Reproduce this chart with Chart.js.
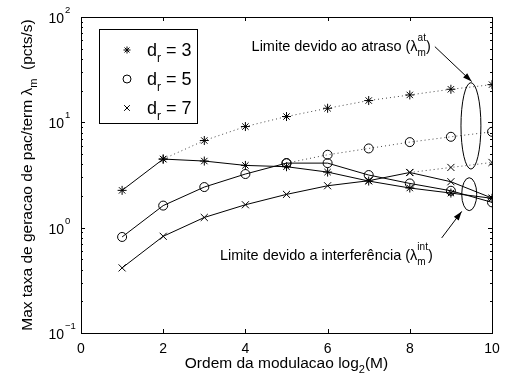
<!DOCTYPE html>
<html>
<head>
<meta charset="utf-8">
<script src="https://cdn.jsdelivr.net/npm/chart.js@4.4.1/dist/chart.umd.min.js"></script>
<style>
  html, body { margin: 0; padding: 0; background: #fff; }
  #grafico { display: block; }
</style>
</head>
<body>
<canvas id="grafico" width="505" height="378"></canvas>
<script>
// ordem da modulacao log2(M)
var ordens = [1, 2, 3, 4, 5, 6, 7, 8, 9, 10];

// taxa maxima (pcts/s), limite efetivo
var taxaDr3 = [2.26, 4.48, 4.29, 3.90, 3.79, 3.37, 2.77, 2.38, 2.13, 1.90];
var taxaDr5 = [0.816, 1.62, 2.43, 3.23, 4.10, 4.10, 3.16, 2.63, 2.24, 1.74];
var taxaDr7 = [0.415, 0.828, 1.25, 1.65, 2.07, 2.50, 2.79, 3.34, 2.73, 1.91];

// limite devido ao atraso (linha pontilhada)
var atrasoDr3 = [null, 4.48, 6.72, 9.12, 11.35, 13.6, 16.1, 18.2, 20.6, 22.8];
var atrasoDr5 = [null, null, null, null, 4.10, 4.92, 5.65, 6.49, 7.29, 8.13];
var atrasoDr7 = [null, null, null, null, null, null, null, 3.34, 3.73, 4.16];

var xTicks = [0, 2, 4, 6, 8, 10];
var yDecadas = [-1, 0, 1, 2];

var legendaItens = [
    { rotulo: '3', estilo: 'star' },
    { rotulo: '5', estilo: 'circle' },
    { rotulo: '7', estilo: 'crossRot' }
];

var FONTE = '"Liberation Sans", Arial, Helvetica, sans-serif';

function pontos(valores) {
    var out = [];
    valores.forEach(function (v, i) {
        if (v !== null) out.push({ x: ordens[i], y: v });
    });
    return out;
}

function serie(valores, estilo, raio, pontilhada) {
    return {
        data: pontos(valores),
        borderColor: pontilhada ? '#444' : '#000',
        borderWidth: 1,
        borderDash: pontilhada ? [1, 3] : [],
        pointStyle: estilo,
        pointRadius: raio,
        pointBorderColor: '#000',
        pointBackgroundColor: 'rgba(0,0,0,0)',
        pointBorderWidth: 1,
        tension: 0,
        fill: false
    };
}

function desenhaMarcador(ctx, estilo, r, x, y) {
    ctx.save();
    ctx.strokeStyle = '#000';
    ctx.fillStyle = 'rgba(0,0,0,0)';
    ctx.lineWidth = 1;
    if (Chart.helpers && Chart.helpers.drawPoint) {
        Chart.helpers.drawPoint(ctx, { pointStyle: estilo, radius: r, rotation: 0, borderWidth: 1 }, x, y);
    }
    ctx.restore();
}

// texto com partes em sobrescrito/subscrito
function textoRico(ctx, partes, x, y, alinhar) {
    var total = 0;
    partes.forEach(function (p) {
        ctx.font = p.tam + 'px ' + FONTE;
        p.w = ctx.measureText(p.t).width;
        if (!p.empilha) total += p.w;
    });
    var cx = alinhar === 'center' ? x - total / 2 : x;
    var ultimo = 0;
    partes.forEach(function (p) {
        ctx.font = p.tam + 'px ' + FONTE;
        var px = p.empilha ? cx - ultimo : cx;
        ctx.fillText(p.t, px, y + (p.dy || 0));
        if (p.empilha) {
            cx = px + Math.max(p.w, ultimo);
        } else {
            cx += p.w;
            ultimo = p.w;
        }
    });
}

var molduraPlugin = {
    id: 'moldura',
    afterDraw: function (chart) {
        var ctx = chart.ctx;
        var a = chart.chartArea;
        var sx = chart.scales.x;
        var sy = chart.scales.y;
        ctx.save();
        ctx.strokeStyle = '#000';
        ctx.lineWidth = 1;
        ctx.strokeRect(Math.round(a.left) + 0.5, Math.round(a.top) + 0.5,
            Math.round(a.right - a.left), Math.round(a.bottom - a.top));

        // ticks para dentro
        ctx.beginPath();
        xTicks.forEach(function (v) {
            var px = Math.round(sx.getPixelForValue(v)) + 0.5;
            ctx.moveTo(px, a.bottom); ctx.lineTo(px, a.bottom - 4);
            ctx.moveTo(px, a.top); ctx.lineTo(px, a.top + 4);
        });
        yDecadas.forEach(function (e) {
            for (var m = 1; m <= 9; m++) {
                if (e === 2 && m > 1) break;
                var py = Math.round(sy.getPixelForValue(m * Math.pow(10, e))) + 0.5;
                var len = m === 1 ? 4 : 2;
                ctx.moveTo(a.left, py); ctx.lineTo(a.left + len, py);
                ctx.moveTo(a.right, py); ctx.lineTo(a.right - len, py);
            }
        });
        ctx.stroke();

        // rotulos dos ticks
        ctx.fillStyle = '#000';
        ctx.textBaseline = 'alphabetic';
        ctx.font = '14px ' + FONTE;
        ctx.textAlign = 'center';
        xTicks.forEach(function (v) {
            ctx.fillText(String(v), sx.getPixelForValue(v), a.bottom + 20);
        });
        yDecadas.forEach(function (e) {
            var py = sy.getPixelForValue(Math.pow(10, e));
            ctx.font = '14px ' + FONTE;
            ctx.textAlign = 'right';
            ctx.fillText('10', a.left - 17, py + 6);
            ctx.font = '9.5px ' + FONTE;
            ctx.textAlign = 'left';
            ctx.fillText(e < 0 ? '\u2212' + (-e) : String(e), a.left - 16, py - 4);
        });

        // titulos dos eixos
        ctx.textAlign = 'left';
        textoRico(ctx, [
            { t: 'Ordem da modulacao log', tam: 15.5 },
            { t: '2', tam: 11, dy: 5 },
            { t: '(M)', tam: 15.5 }
        ], (a.left + a.right) / 2, a.bottom + 35, 'center');

        ctx.save();
        ctx.translate(32, (a.top + a.bottom) / 2);
        ctx.rotate(-Math.PI / 2);
        textoRico(ctx, [
            { t: 'Max taxa de geracao de pac/term \u03bb', tam: 15.5 },
            { t: 'm', tam: 11, dy: 5 },
            { t: '  (pcts/s)', tam: 15.5 }
        ], 0, 0, 'center');
        ctx.restore();

        // anotacoes: elipses
        function elipse(x0, x1, y0, y1) {
            var l = sx.getPixelForValue(x0), r = sx.getPixelForValue(x1);
            var t = sy.getPixelForValue(y1), b = sy.getPixelForValue(y0);
            ctx.beginPath();
            ctx.ellipse((l + r) / 2, (t + b) / 2, (r - l) / 2, (b - t) / 2, 0, 0, Math.PI * 2);
            ctx.stroke();
        }
        elipse(9.245, 9.73, 3.6, 23.8);
        elipse(9.263, 9.628, 1.45, 2.98);

        // setas
        function seta(x0, y0, x1, y1) {
            var ax = sx.getPixelForValue(x0), ay = sy.getPixelForValue(y0);
            var bx = sx.getPixelForValue(x1), by = sy.getPixelForValue(y1);
            var ang = Math.atan2(by - ay, bx - ax);
            ctx.beginPath();
            ctx.moveTo(ax, ay); ctx.lineTo(bx, by);
            ctx.stroke();
            ctx.beginPath();
            ctx.moveTo(bx, by);
            ctx.lineTo(bx - 9 * Math.cos(ang) + 3 * Math.sin(ang), by - 9 * Math.sin(ang) - 3 * Math.cos(ang));
            ctx.lineTo(bx - 9 * Math.cos(ang) - 3 * Math.sin(ang), by - 9 * Math.sin(ang) + 3 * Math.cos(ang));
            ctx.closePath();
            ctx.fillStyle = '#000';
            ctx.fill();
        }
        seta(8.61, 52.3, 9.506, 24.4);
        seta(8.776, 0.799, 9.263, 1.427);

        // textos das anotacoes
        ctx.fillStyle = '#000';
        ctx.textAlign = 'left';
        textoRico(ctx, [
            { t: 'Limite devido ao atraso (\u03bb', tam: 14.5 },
            { t: 'at', tam: 10, dy: -10 },
            { t: 'm', tam: 10, dy: 5, empilha: true },
            { t: ')', tam: 14.5 }
        ], sx.getPixelForValue(4.15), sy.getPixelForValue(47.6), 'left');
        textoRico(ctx, [
            { t: 'Limite devido a interfer\u00eancia (\u03bb', tam: 14.5 },
            { t: 'int', tam: 10, dy: -10 },
            { t: 'm', tam: 10, dy: 5, empilha: true },
            { t: ')', tam: 14.5 }
        ], sx.getPixelForValue(3.38), sy.getPixelForValue(0.497), 'left');

        // legenda
        var lx = a.left + 18, ly = a.top + 12;
        ctx.fillStyle = '#fff';
        ctx.fillRect(lx, ly, 98, 94);
        ctx.strokeStyle = '#000';
        ctx.strokeRect(lx + 0.5, ly + 0.5, 98, 94);
        legendaItens.forEach(function (item, i) {
            var cy = ly + 21 + i * 29;
            var raio = item.estilo === 'circle' ? 4 : (item.estilo === 'star' ? 3.5 : 4);
            desenhaMarcador(ctx, item.estilo, raio, lx + 28, cy);
            ctx.fillStyle = '#000';
            textoRico(ctx, [
                { t: 'd', tam: 18 },
                { t: 'r', tam: 12, dy: 6 },
                { t: ' = ' + item.rotulo, tam: 18 }
            ], lx + 48, cy + 6, 'left');
        });
        ctx.restore();
    }
};

var ctx = document.getElementById('grafico').getContext('2d');
var grafico = new Chart(ctx, {
    type: 'line',
    data: {
        datasets: [
            serie(atrasoDr3, 'star', 4.5, true),
            serie(atrasoDr5, 'circle', 4.5, true),
            serie(atrasoDr7, 'crossRot', 5, true),
            serie(taxaDr3, 'star', 4.5, false),
            serie(taxaDr5, 'circle', 4.5, false),
            serie(taxaDr7, 'crossRot', 5, false)
        ]
    },
    options: {
        responsive: false,
        animation: false,
        devicePixelRatio: 1,
        layout: { padding: { top: 17, right: 13, left: 0, bottom: 0 } },
        plugins: {
            legend: { display: false },
            tooltip: { enabled: false }
        },
        scales: {
            x: {
                type: 'linear',
                min: 0,
                max: 10,
                grid: { display: false },
                border: { display: false },
                ticks: { display: false },
                afterFit: function (scale) { scale.height = 45; }
            },
            y: {
                type: 'logarithmic',
                min: 0.1,
                max: 100,
                grid: { display: false },
                border: { display: false },
                ticks: { display: false },
                afterFit: function (scale) { scale.width = 81; }
            }
        }
    },
    plugins: [molduraPlugin]
});
</script>
</body>
</html>
